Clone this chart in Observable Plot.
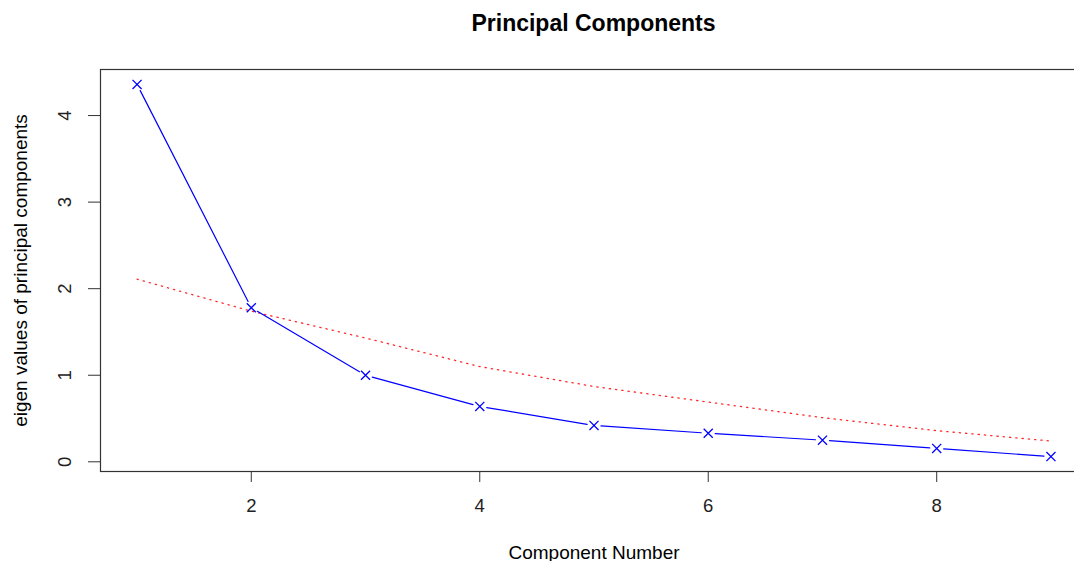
<!DOCTYPE html>
<html>
<head>
<meta charset="utf-8">
<script src="https://cdn.jsdelivr.net/npm/d3@7"></script>
<script src="https://cdn.jsdelivr.net/npm/@observablehq/plot@0.6"></script>
<style>
  html, body { margin: 0; padding: 0; background: #fff; overflow: hidden; width: 1074px; height: 561px; }
  #wrap { position: relative; width: 1100px; }
  #title { height: 50px; width: 1100px; box-sizing: border-box; padding-left: 100px; padding-right: 13px;
           font-family: "Liberation Sans", Arial, sans-serif; font-weight: bold; font-size: 23px;
           text-align: center; line-height: 46px; color: #000; }
  svg { display: block; overflow: visible; }
</style>
</head>
<body>
<div id="wrap">
  <div id="title">Principal Components</div>
  <div id="chart"></div>
</div>
<script>
const components = [1, 2, 3, 4, 5, 6, 7, 8, 9];
const eigenValues = [4.36, 1.78, 1.00, 0.64, 0.42, 0.33, 0.25, 0.155, 0.06];
const simulatedValues = [2.11, 1.74, 1.43, 1.10, 0.87, 0.69, 0.51, 0.36, 0.24];
const xTicks = [2, 4, 6, 8];
const yTicks = [0, 1, 2, 3, 4];
const xLabel = "Component Number";
const yLabel = "eigen values of principal components";

const points = components.map((c, i) => ({x: c, y: eigenValues[i]}));
const sim = components.map((c, i) => ({x: c, y: simulatedValues[i]}));
const segments = components.slice(1).map((c, i) => ({
  x1: components[i], y1: eigenValues[i], x2: c, y2: eigenValues[i + 1]
}));

const font = "'Liberation Sans', Arial, sans-serif";

const chart = Plot.plot({
  width: 1100,
  height: 511,
  marginLeft: 100,
  marginRight: 13,
  marginTop: 19,
  marginBottom: 90,
  style: {fontFamily: font, fontSize: "18px", color: "#000", background: "#fff"},
  x: {domain: [0.68, 9.32]},
  y: {domain: [-0.112, 4.532]},
  marks: [
    Plot.frame({stroke: "#333", strokeWidth: 1.2}),
    Plot.axisX(xTicks, {tickSize: 11, stroke: "#333", text: null, label: null}),
    Plot.axisY(yTicks, {tickSize: 12, stroke: "#333", text: null, label: null}),
    Plot.text(xTicks, {x: d => d, text: d => String(d), frameAnchor: "bottom", dy: 35, lineAnchor: "middle", textAnchor: "middle", fontSize: 18.5, fill: "#222"}),
    Plot.text(yTicks, {y: d => d, text: d => String(d), frameAnchor: "left", dx: -35, rotate: -90, lineAnchor: "middle", textAnchor: "middle", fontSize: 18.5, fill: "#222"}),
    Plot.text([xLabel], {text: d => d, frameAnchor: "bottom", dy: 81, lineAnchor: "middle", textAnchor: "middle", fontSize: 19}),
    Plot.text([yLabel], {text: d => d, frameAnchor: "left", dx: -80, rotate: -90, lineAnchor: "middle", textAnchor: "middle", fontSize: 19}),
    Plot.line(sim, {x: "x", y: "y", stroke: "#ff2a2a", strokeWidth: 1.3, strokeDasharray: "1.3,5"}),
    Plot.arrow(segments, {x1: "x1", y1: "y1", x2: "x2", y2: "y2", stroke: "#0000ff", strokeWidth: 1.2, headLength: 0, inset: 7}),
    Plot.dot(points, {x: "x", y: "y", symbol: "times", r: 4.2, stroke: "#0000ff", strokeWidth: 1.3})
  ]
});
document.getElementById("chart").appendChild(chart);
</script>
</body>
</html>
